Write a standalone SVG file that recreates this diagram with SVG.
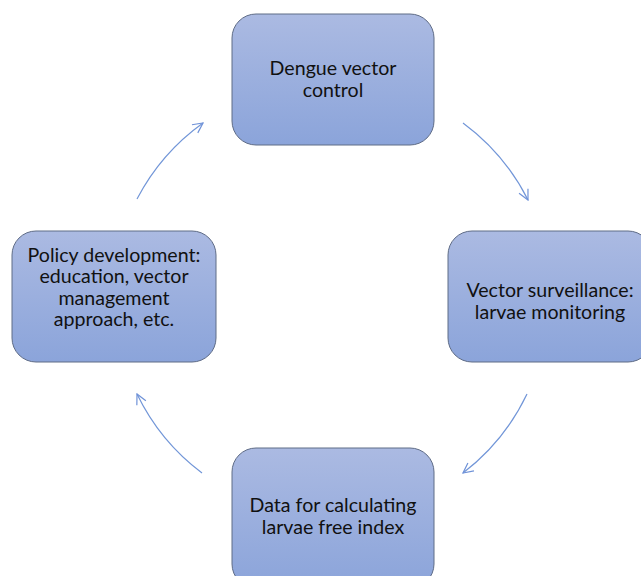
<svg xmlns="http://www.w3.org/2000/svg" width="641" height="576" viewBox="0 0 641 576">
<defs>
<linearGradient id="g" x1="0" y1="0" x2="0" y2="1">
<stop offset="0" stop-color="#abbae2"/>
<stop offset="1" stop-color="#8ba4da"/>
</linearGradient>
<marker id="arr" viewBox="0 0 12 12" refX="11" refY="6" markerWidth="12" markerHeight="12" markerUnits="userSpaceOnUse" orient="auto">
<path d="M1,1 L11,6 L1,11" fill="none" stroke="#6f92d8" stroke-width="1.2"/>
</marker>
</defs>
<style>
.box{fill:url(#g);stroke:#5f6c86;stroke-width:1}
.t{font-family:Lato,"Open Sans",sans-serif;font-size:19.6px;fill:#111;text-anchor:middle}
.c{fill:none;stroke:#7296d8;stroke-width:1.2;marker-end:url(#arr)}
</style>
<rect width="641" height="576" fill="#fff"/>
<g id="n1"><rect class="box" x="232" y="14" width="202" height="131" rx="24"/>
<text class="t" x="333" y="75">Dengue vector</text><text class="t" x="333" y="97">control</text></g>
<g id="n2"><rect class="box" x="448" y="231" width="204" height="131" rx="24"/>
<text class="t" x="550" y="297">Vector surveillance:</text><text class="t" x="550" y="319">larvae monitoring</text></g>
<g id="n3"><rect class="box" x="232" y="448" width="202" height="140" rx="24"/>
<text class="t" x="333" y="512">Data for calculating</text><text class="t" x="333" y="534">larvae free index</text></g>
<g id="n4"><rect class="box" x="12" y="231" width="204" height="131" rx="24"/>
<text class="t" x="114" y="262">Policy development:</text><text class="t" x="114" y="283">education, vector</text><text class="t" x="114" y="305">management</text><text class="t" x="114" y="326">approach, etc.</text></g>
<g id="connectors">
<path class="c" d="M137,199 A217,217 0 0 1 203,123"/>
<path class="c" d="M463,123 A217,217 0 0 1 528,200"/>
<path class="c" d="M527,394 A217,217 0 0 1 463,473"/>
<path class="c" d="M202,473 A217,217 0 0 1 137,394"/>
</g>
</svg>
